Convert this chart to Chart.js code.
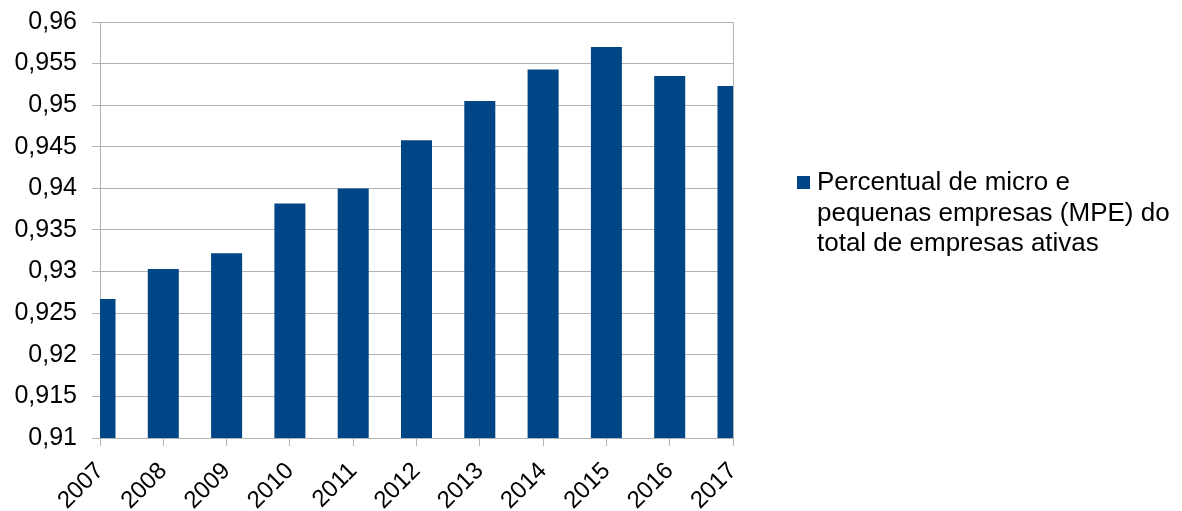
<!DOCTYPE html>
<html>
<head>
<meta charset="utf-8">
<script src="https://cdn.jsdelivr.net/npm/chart.js@4"></script>
<style>
  body { margin: 0; background: #fff; }
  #wrap { position: relative; width: 1182px; height: 511px; }
  #legend {
    position: absolute; left: 817px; top: 166px;
    font-family: "Liberation Sans", Arial, sans-serif;
    font-size: 26px; line-height: 30.5px; color: #000;
    white-space: nowrap;
  }
  #legend .box {
    position: absolute; left: -20px; top: 10px;
    width: 13px; height: 13px; background: #004586;
  }
</style>
</head>
<body>
<div id="wrap">
  <canvas id="cht" width="1182" height="511"></canvas>
  <div id="legend"><span class="box"></span>Percentual de micro e<br>pequenas empresas (MPE) do<br>total de empresas ativas</div>
</div>
<script>
const years = ['2007', '2008', '2009', '2010', '2011', '2012', '2013', '2014', '2015', '2016', '2017'];
const mpeShare = [0.9267, 0.9303, 0.9322, 0.9382, 0.9400, 0.9458, 0.9505, 0.9543, 0.9570, 0.9535, 0.9523];
const yMin = 0.91;
const yMax = 0.96;
const yStep = 0.005;

const gridGray = '#b3b3b3';
const fontFamily = '"Liberation Sans", Arial, sans-serif';

const cht = document.getElementById('cht');
const chart = new Chart(cht, {
  type: 'bar',
  data: {
    labels: years,
    datasets: [{
      label: 'Percentual de micro e pequenas empresas (MPE) do total de empresas ativas',
      data: mpeShare,
      backgroundColor: '#004586',
      borderWidth: 0,
      barPercentage: 1,
      categoryPercentage: 0.49
    }]
  },
  options: {
    responsive: false,
    animation: false,
    layout: { padding: { top: 22, right: 449, left: 0, bottom: 0 } },
    plugins: {
      legend: { display: false },
      tooltip: { enabled: false }
    },
    scales: {
      x: {
        offset: false,
        grid: {
          offset: false,
          drawOnChartArea: true,
          // only the last line shows, as the right frame
          color: (ctx) => ctx.index === years.length - 1 ? gridGray : 'rgba(0,0,0,0)',
          tickColor: gridGray,
          tickLength: 8
        },
        border: { display: true, color: gridGray },
        ticks: {
          color: '#000',
          font: { family: fontFamily, size: 24 },
          minRotation: 45,
          maxRotation: 45,
          padding: 11,
          autoSkip: false
        },
        afterFit: (scale) => { scale.height = 73; }
      },
      y: {
        min: yMin,
        max: yMax,
        grid: {
          color: gridGray,
          tickColor: gridGray,
          tickLength: 8
        },
        border: { display: true, color: gridGray },
        ticks: {
          stepSize: yStep,
          color: '#000',
          font: { family: fontFamily, size: 25 },
          padding: 15,
          callback: (v) => String(Number(v.toFixed(3))).replace('.', ',')
        },
        afterFit: (scale) => {
          scale.width = 100;
          scale.paddingTop = 0;
          scale.paddingBottom = 0;
        }
      }
    }
  }
});
</script>
</body>
</html>
